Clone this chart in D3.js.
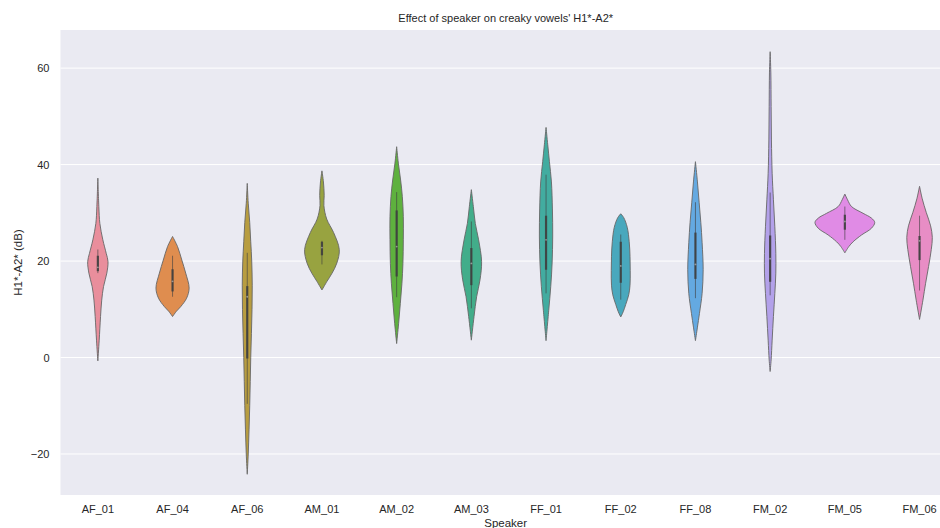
<!DOCTYPE html>
<html lang="en">
<head>
    <meta charset="UTF-8">
    <title>Effect of speaker on creaky vowels' H1*-A2*</title>
    <style>
        body { margin: 0; background: #ffffff; }
        svg { display: block; font-family: "Liberation Sans", Arial, sans-serif; }
    </style>
</head>
<body>
    <div id="chart"></div>

    <script src="https://d3js.org/d3.v7.min.js"></script>
    <script type="text/javascript">
// speakers along the x axis
const speakers = ["AF_01", "AF_04", "AF_06", "AM_01", "AM_02", "AM_03",
                  "FF_01", "FF_02", "FF_08", "FM_02", "FM_05", "FM_06"];

// violin outline for each speaker: H1*-A2* values and relative density at each value
const profileValues = [
    [37.2, 31.3, 27.8, 24.4, 21.6, 19.9, 17.5, 14.7, 11.9, 8.5, 3.6, -0.7],
    [25.1, 23.0, 20.2, 17.5, 14.4, 12.3, 10.6, 9.6, 8.5],
    [36.1, 32, 28, 24, 20, 15, 10, 5, 0, -5, -10, -15, -20, -24.2],
    [38.7, 36.4, 33.6, 31.5, 28.7, 25.9, 22.4, 19.6, 17.5, 15.8, 14.0],
    [43.7, 40.3, 36.8, 33.4, 29.2, 24.4, 19.5, 15.4, 11.2, 7.1, 2.9],
    [34.8, 31.3, 27.8, 24.4, 19.9, 16.1, 12.6, 8.5, 3.6],
    [47.7, 44.1, 40.6, 36.4, 30.8, 25.2, 19.6, 14.7, 9.8, 3.5],
    [29.8, 29.0, 27.0, 24.0, 21.0, 18.0, 15.0, 13.0, 11.0, 9.5, 8.4],
    [40.6, 36.4, 32.2, 28.0, 23.8, 18.2, 13.3, 9.1, 6.3, 3.5],
    [63.4, 59.0, 52.0, 45.1, 38.2, 32.7, 27.1, 21.6, 17.5, 13.3, 8.5, 3.6, -0.5, -2.9],
    [33.9, 32.7, 31.3, 29.9, 28.9, 28.0, 26.8, 25.4, 24.0, 23.0, 21.7],
    [35.5, 32.9, 30.1, 27.3, 24.9, 22.4, 18.9, 15.4, 11.9, 7.9]
];
const profileDensity = [
    [0, 0.033, 0.067, 0.167, 0.28, 0.34, 0.30, 0.19, 0.13, 0.09, 0.045, 0],
    [0, 0.167, 0.31, 0.44, 0.555, 0.47, 0.28, 0.13, 0],
    [0, 0.033, 0.083, 0.117, 0.15, 0.167, 0.16, 0.14, 0.117, 0.1, 0.083, 0.06, 0.033, 0],
    [0, 0.05, 0.075, 0.065, 0.16, 0.39, 0.58, 0.5, 0.34, 0.17, 0],
    [0, 0.057, 0.133, 0.19, 0.223, 0.223, 0.21, 0.177, 0.123, 0.067, 0],
    [0, 0.067, 0.133, 0.243, 0.343, 0.29, 0.177, 0.09, 0],
    [0, 0.057, 0.113, 0.18, 0.213, 0.223, 0.203, 0.157, 0.09, 0],
    [0, 0.1, 0.217, 0.283, 0.31, 0.317, 0.31, 0.267, 0.167, 0.083, 0],
    [0, 0.067, 0.123, 0.18, 0.223, 0.258, 0.223, 0.133, 0.067, 0],
    [0, 0.023, 0.033, 0.043, 0.067, 0.11, 0.157, 0.19, 0.19, 0.157, 0.11, 0.067, 0.033, 0],
    [0, 0.09, 0.223, 0.61, 0.89, 1.0, 0.89, 0.557, 0.277, 0.133, 0],
    [0, 0.09, 0.223, 0.37, 0.427, 0.393, 0.303, 0.203, 0.113, 0]
];

// inner box: whiskers, quartiles and median
const whiskerLow  = [17.5, 12.6, -9.6, 19.3, 12.5, 10.2, 13.3, 12.0, 12.3, 12.9, 24.4, 13.9];
const whiskerHigh = [22.4, 21.1, 21.7, 24.2, 34.3, 28.2, 37.9, 25.5, 32.2, 34.2, 31.3, 29.4];
const quartile1   = [17.9, 13.7, -0.2, 21.2, 16.8, 15.0, 18.2, 15.5, 16.3, 15.7, 26.5, 20.2];
const quartile3   = [21.1, 18.3, 14.8, 24.0, 30.5, 22.7, 29.4, 24.0, 25.9, 25.3, 29.6, 25.2];
const medians     = [18.7, 15.8, 12.6, 22.8, 23.0, 19.5, 24.4, 19.0, 19.3, 20.5, 28.2, 24.2];

const yTicks = [-20, 0, 20, 40, 60];

const colors = ["#e98e9c", "#df8d4f", "#b89d40", "#98a340", "#5eb13e", "#42ad8a",
                "#42aca0", "#49a8bd", "#64a9e1", "#b3a1ea", "#e08be5", "#e88dc5"];

const totalWidth = 940, totalHeight = 528;
const plot = { left: 60.5, top: 30, bottom: 495, step: 74.7 };
plot.right = plot.left + plot.step * speakers.length;

const svg = d3.select("#chart")
    .append("svg")
    .attr("width", totalWidth)
    .attr("height", totalHeight);

const xScale = d3.scaleBand().domain(speakers).range([plot.left, plot.right]).padding(0);
const yScale = d3.scaleLinear().domain([-28.5, 67.9]).range([plot.bottom, plot.top]);
// widest violin spans 80% of its band
const wScale = d3.scaleLinear().domain([0, 1]).range([0, xScale.bandwidth() * 0.4]);

// background + grid
svg.append("rect")
    .attr("x", plot.left).attr("y", plot.top)
    .attr("width", plot.right - plot.left).attr("height", plot.bottom - plot.top)
    .attr("fill", "#eaeaf2");

svg.append("g")
    .selectAll("line")
    .data(yTicks)
    .enter()
    .append("line")
    .attr("x1", plot.left).attr("x2", plot.right)
    .attr("y1", function(d) { return yScale(d); })
    .attr("y2", function(d) { return yScale(d); })
    .attr("stroke", "#ffffff")
    .attr("stroke-width", 1);

// axes (labels only, no domain lines)
const yAxis = svg.append("g")
    .attr("transform", `translate(${plot.left},0)`)
    .call(d3.axisLeft(yScale).tickValues(yTicks).tickSize(0).tickPadding(11).tickFormat(function(d) {
        return d < 0 ? "\u2212" + Math.abs(d) : d;
    }));
yAxis.select(".domain").remove();
yAxis.selectAll("text").attr("font-size", 11).attr("fill", "#262626").attr("font-family", "Liberation Sans, Arial, sans-serif");

const xAxis = svg.append("g")
    .attr("transform", `translate(0,${plot.bottom})`)
    .call(d3.axisBottom(xScale).tickSize(0).tickPadding(10));
xAxis.select(".domain").remove();
xAxis.selectAll("text").attr("font-size", 11).attr("fill", "#262626").attr("font-family", "Liberation Sans, Arial, sans-serif");

// violins
const area = d3.area()
    .curve(d3.curveCatmullRom)
    .y(function(d) { return yScale(d.v); })
    .x0(function(d) { return d.cx - wScale(d.w); })
    .x1(function(d) { return d.cx + wScale(d.w); });

speakers.forEach(function(s, i) {
    const cx = xScale(s) + xScale.bandwidth() / 2;
    const pts = profileValues[i].map(function(v, j) {
        return { v: v, w: profileDensity[i][j], cx: cx };
    });
    const g = svg.append("g").attr("class", "violin");

    g.append("path")
        .datum(pts)
        .attr("d", area)
        .attr("fill", colors[i])
        .attr("stroke", "#666666")
        .attr("stroke-width", 0.9);

    g.append("line")
        .attr("x1", cx).attr("x2", cx)
        .attr("y1", yScale(whiskerLow[i])).attr("y2", yScale(whiskerHigh[i]))
        .attr("stroke", "#3f3f3f").attr("stroke-width", 0.9).attr("stroke-opacity", 0.7);

    g.append("line")
        .attr("x1", cx).attr("x2", cx)
        .attr("y1", yScale(quartile1[i])).attr("y2", yScale(quartile3[i]))
        .attr("stroke", "#3f3f3f").attr("stroke-width", 2.2).attr("stroke-opacity", 0.9);

    g.append("circle")
        .attr("cx", cx).attr("cy", yScale(medians[i]))
        .attr("r", 0.9)
        .attr("fill", "#ffffff").attr("fill-opacity", 0.45);
});

// labels
svg.append("text")
    .attr("x", (plot.left + plot.right) / 2 - 3)
    .attr("y", 22)
    .attr("text-anchor", "middle")
    .attr("font-size", 11)
    .attr("fill", "#262626")
    .text("Effect of speaker on creaky vowels' H1*-A2*");

svg.append("text")
    .attr("x", (plot.left + plot.right) / 2 - 3)
    .attr("y", 527)
    .attr("text-anchor", "middle")
    .attr("font-size", 11.5)
    .attr("fill", "#262626")
    .text("Speaker");

svg.append("text")
    .attr("transform", `translate(22,${(plot.top + plot.bottom) / 2}) rotate(-90)`)
    .attr("text-anchor", "middle")
    .attr("font-size", 11.5)
    .attr("fill", "#262626")
    .text("H1*-A2* (dB)");
    </script>
</body>
</html>
